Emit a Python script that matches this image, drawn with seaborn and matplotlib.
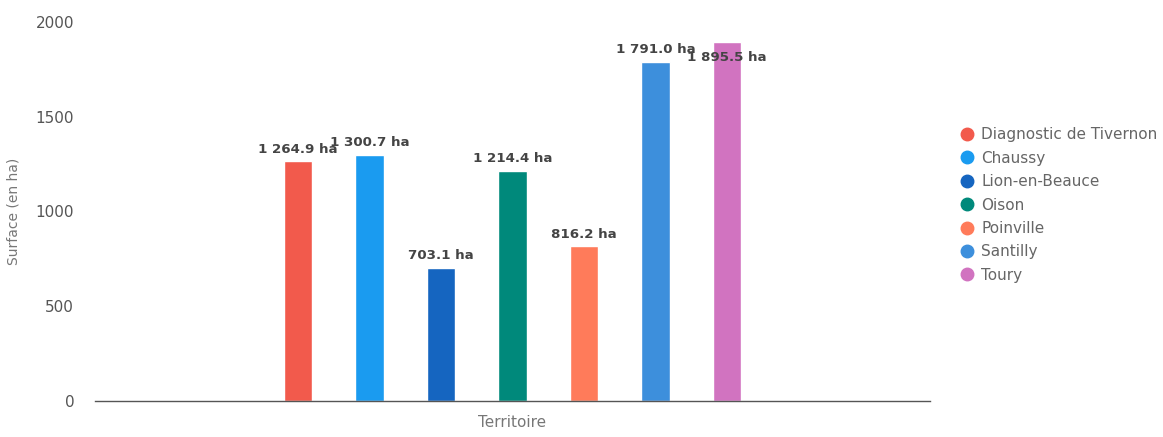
import matplotlib.pyplot as plt
import pandas as pd
import seaborn as sns

communes = ["Diagnostic de Tivernon", "Chaussy", "Lion-en-Beauce", "Oison",
            "Poinville", "Santilly", "Toury"]
surfaces = [1264.9, 1300.7, 703.1, 1214.4, 816.2, 1791.0, 1895.5]
colors = ["#f25a4c", "#1a9bf0", "#1565c0", "#00897b", "#ff7b5a", "#3d8fdc", "#d173c0"]
yticks = [0, 500, 1000, 1500, 2000]

df = pd.DataFrame({"Territoire": [""] * len(communes),
                   "Commune": communes,
                   "Surface": surfaces})

sns.set_theme(style="white")
plt.rcParams["font.family"] = ["DejaVu Sans"]

fig = plt.figure(figsize=(11.63, 4.37), dpi=100)
ax = fig.add_axes([0.0817, 0.0824, 0.718, 0.8673])

sns.barplot(data=df, x="Territoire", y="Surface", hue="Commune",
            hue_order=communes, palette=colors, width=0.8, gap=0.6,
            saturation=1, legend=False, ax=ax)

# last label gets pushed down by the chart to avoid overlapping its neighbour
offsets = [4, 4, 4, 4, 4, 4, -16]
for bar, val, off in zip(ax.patches, surfaces, offsets):
    lab = f"{val:,.1f}".replace(",", " ") + " ha"
    ax.annotate(lab, (bar.get_x() + bar.get_width() / 2, bar.get_height()),
                xytext=(0, off), textcoords="offset points", ha="center", va="bottom",
                fontsize=9.6, fontweight="bold", color="#444444")

ax.set_xlim(-0.667, 0.667)
ax.set_ylim(0, 2000)
ax.set_yticks(yticks)
ax.set_yticklabels([str(t) for t in yticks], color="#555555", fontsize=11)
ax.tick_params(axis="y", length=0, pad=15)
ax.set_xticks([])
ax.set_xlabel("Territoire", color="#777777", fontsize=11, labelpad=10)
ax.set_ylabel("Surface (en ha)", color="#777777", fontsize=10, labelpad=11)
for s in ["top", "right", "left"]:
    ax.spines[s].set_visible(False)
ax.spines["bottom"].set_color("#555555")
ax.spines["bottom"].set_linewidth(1.0)

handles = [plt.Line2D([], [], marker="o", linestyle="", markersize=9,
                      markerfacecolor=c, markeredgecolor=c) for c in colors]
fig.legend(handles, communes, loc="upper left", bbox_to_anchor=(0.812, 0.74),
           frameon=False, fontsize=11, labelcolor="#666666",
           handletextpad=0.3, labelspacing=0.55, handlelength=1.2)

fig.savefig("out.png", dpi=100)
